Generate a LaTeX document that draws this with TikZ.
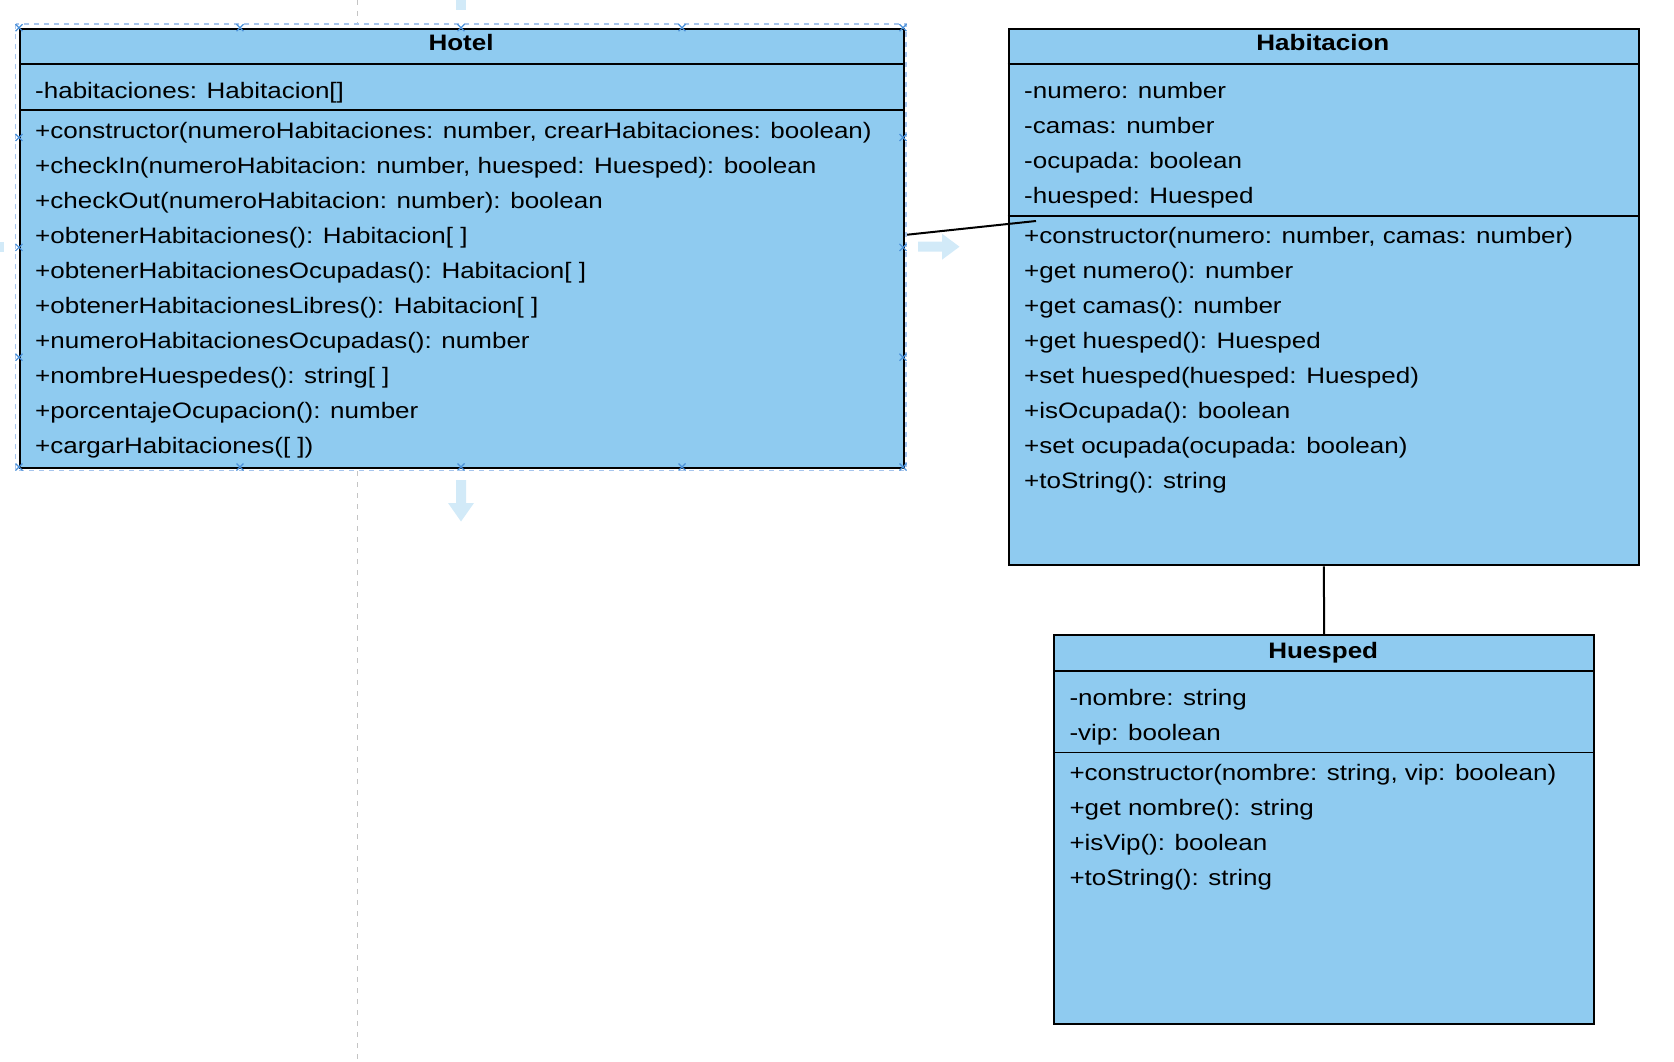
\documentclass[tikz,border=0pt]{standalone}
\usepackage{fontspec}
\setmainfont{Liberation Sans}
\definecolor{boxfill}{HTML}{8FCBF0}
\definecolor{selblue}{HTML}{A8C6EE}
\definecolor{markblue}{HTML}{4A90D9}
\definecolor{hoverblue}{HTML}{D2EAF8}
\definecolor{guidegray}{HTML}{C4C4C4}
\newcommand{\umltxt}[1]{\scalebox{1}[0.86]{#1}}
\begin{document}
\begin{tikzpicture}[x=1pt,y=-1pt,
  classbox/.style={draw=black, line width=2pt, fill=boxfill, rectangle, inner sep=0pt, anchor=north west},
  member/.style={anchor=base west, inner sep=0pt, font=\fontsize{26}{30}\selectfont},
  ctitle/.style={anchor=base, inner sep=0pt, font=\fontsize{26}{30}\selectfont\bfseries},
  divider/.style={line width=2pt},
  thindiv/.style={line width=1.6pt},
  conn/.style={line width=2pt},
  guide/.style={guidegray, line width=1.6pt, dash pattern=on 5pt off 6pt},
  selrect/.style={selblue, line width=1.3pt, dash pattern=on 5pt off 5pt},
  hoverarrow/.style={fill=hoverblue, draw=none},
  marker/.style={markblue, line width=1.2pt}]
\useasboundingbox (0,0) rectangle (1674,1062);

% guide line (behind)
\draw[guide] (357.3,0) -- (357.3,24);
\draw[guide] (357.3,471) -- (357.3,1062);

% class boxes
\node[classbox, minimum width=884pt, minimum height=439.3pt] (hotel) at (19,27.7) {};
\node[classbox, minimum width=630.3pt, minimum height=536.6pt] (habitacion) at (1007.7,27.7) {};
\node[classbox, minimum width=539.7pt, minimum height=388.7pt] (huesped) at (1053.3,634.3) {};

% dividers
\draw[divider] (19,64.3) -- (903,64.3);
\draw[divider] (19,110.5) -- (903,110.5);
\draw[divider] (1007.7,64.3) -- (1638,64.3);
\draw[thindiv] (1007.7,215.7) -- (1638,215.7);
\draw[divider] (1053.3,671) -- (1593,671);
\draw[thindiv] (1053.3,752.3) -- (1593,752.3);

% titles
\node[ctitle] (hoteltitle) at (461,50.7) {\umltxt{Hotel}};
\node[ctitle] (habtitle) at (1322.9,50.7) {\umltxt{Habitacion}};
\node[ctitle] (huetitle) at (1323.2,658.5) {\umltxt{Huesped}};

% Hotel members
\node[member] (h0) at (35,98.7) {\umltxt{-habitaciones: Habitacion[]}};
\node[member] (h1) at (35,138.5) {\umltxt{+constructor(numeroHabitaciones: number, crearHabitaciones: boolean)}};
\node[member] (h2) at (35,173.5) {\umltxt{+checkIn(numeroHabitacion: number, huesped: Huesped): boolean}};
\node[member] (h3) at (35,208.5) {\umltxt{+checkOut(numeroHabitacion: number): boolean}};
\node[member] (h4) at (35,243.5) {\umltxt{+obtenerHabitaciones(): Habitacion[ ]}};
\node[member] (h5) at (35,278.5) {\umltxt{+obtenerHabitacionesOcupadas(): Habitacion[ ]}};
\node[member] (h6) at (35,313.5) {\umltxt{+obtenerHabitacionesLibres(): Habitacion[ ]}};
\node[member] (h7) at (35,348.5) {\umltxt{+numeroHabitacionesOcupadas(): number}};
\node[member] (h8) at (35,383.5) {\umltxt{+nombreHuespedes(): string[ ]}};
\node[member] (h9) at (35,418.5) {\umltxt{+porcentajeOcupacion(): number}};
\node[member] (h10) at (35,453.5) {\umltxt{+cargarHabitaciones([ ])}};

% Habitacion members
\node[member] (b0) at (1024,98.7) {\umltxt{-numero: number}};
\node[member] (b1) at (1024,133.7) {\umltxt{-camas: number}};
\node[member] (b2) at (1024,168.7) {\umltxt{-ocupada: boolean}};
\node[member] (b3) at (1024,203.7) {\umltxt{-huesped: Huesped}};
\node[member] (b4) at (1024,243.5) {\umltxt{+constructor(numero: number, camas: number)}};
\node[member] (b5) at (1024,278.5) {\umltxt{+get numero(): number}};
\node[member] (b6) at (1024,313.5) {\umltxt{+get camas(): number}};
\node[member] (b7) at (1024,348.5) {\umltxt{+get huesped(): Huesped}};
\node[member] (b8) at (1024,383.5) {\umltxt{+set huesped(huesped: Huesped)}};
\node[member] (b9) at (1024,418.5) {\umltxt{+isOcupada(): boolean}};
\node[member] (b10) at (1024,453.5) {\umltxt{+set ocupada(ocupada: boolean)}};
\node[member] (b11) at (1024,488.5) {\umltxt{+toString(): string}};

% Huesped members
\node[member] (u0) at (1069.3,705.6) {\umltxt{-nombre: string}};
\node[member] (u1) at (1069.3,740.6) {\umltxt{-vip: boolean}};
\node[member] (u2) at (1069.3,780) {\umltxt{+constructor(nombre: string, vip: boolean)}};
\node[member] (u3) at (1069.3,815) {\umltxt{+get nombre(): string}};
\node[member] (u4) at (1069.3,850) {\umltxt{+isVip(): boolean}};
\node[member] (u5) at (1069.3,885) {\umltxt{+toString(): string}};

% connectors
\coordinate (habpt) at (1036,221);
\draw[conn] ([yshift=13.4pt]hotel.east) -- (habpt);
\draw[conn] (habitacion.south) -- (huesped.north);

% selection overlay
\draw[selrect] (15.7,24) rectangle (906,470.5);
\foreach \px in {19,240,461,682,903} {
  \draw[marker] (\px-3.5,27.7-3.5) -- (\px+3.5,27.7+3.5) (\px-3.5,27.7+3.5) -- (\px+3.5,27.7-3.5);
  \draw[marker] (\px-3.5,467-3.5) -- (\px+3.5,467+3.5) (\px-3.5,467+3.5) -- (\px+3.5,467-3.5);
}
\foreach \py in {137.5,247.4,357.2} {
  \draw[marker] (19-3.5,\py-3.5) -- (19+3.5,\py+3.5) (19-3.5,\py+3.5) -- (19+3.5,\py-3.5);
  \draw[marker] (903-3.5,\py-3.5) -- (903+3.5,\py+3.5) (903-3.5,\py+3.5) -- (903+3.5,\py-3.5);
}

% hover arrows
\fill[hoverarrow] (918,241.7) -- (942,241.7) -- (942,233.7) -- (959.5,246.7) -- (942,259.7) -- (942,251.7) -- (918,251.7) -- cycle;
\fill[hoverarrow] (456,480) -- (456,503) -- (448,503) -- (461,521.5) -- (474,503) -- (466,503) -- (466,480) -- cycle;
\fill[hoverarrow] (456,0) rectangle (466,10);
\fill[hoverarrow] (0,241.7) rectangle (4,251.7);
\end{tikzpicture}
\end{document}
